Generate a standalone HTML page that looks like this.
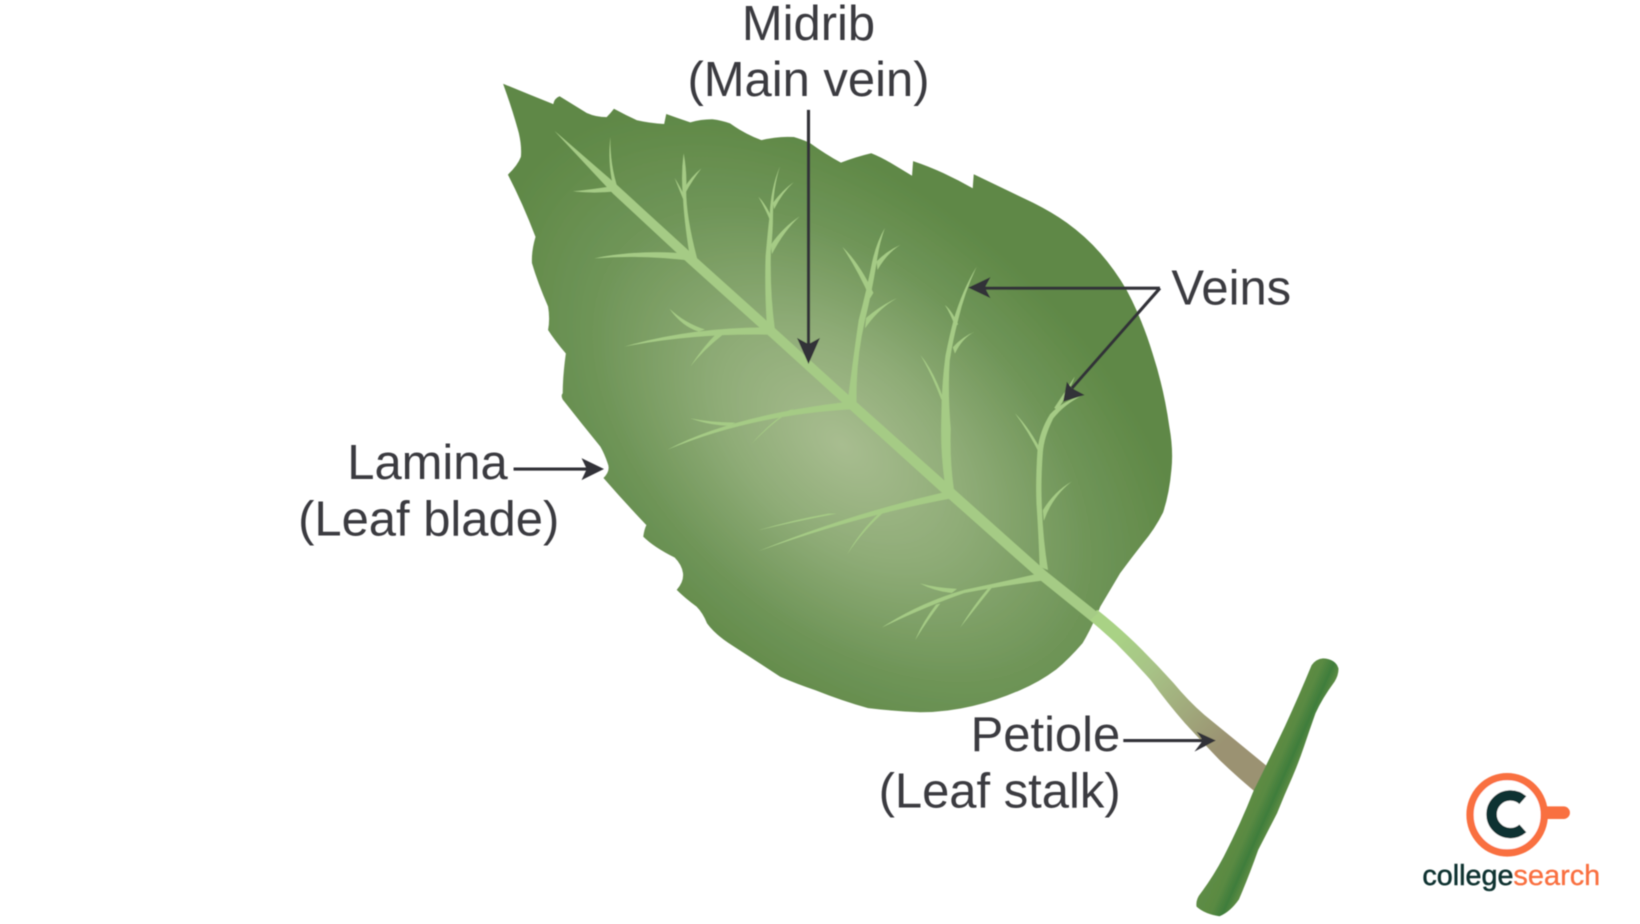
<!DOCTYPE html>
<html lang="en">
<head>
<meta charset="utf-8">
<title>Leaf diagram</title>
<style>
html,body{margin:0;padding:0;background:#fff}
svg{display:block;width:1640px;height:924px}
text{font-family:"Liberation Sans",sans-serif;fill:#3b3b3f;font-size:46.8px}
</style>
</head>
<body>
<svg xmlns="http://www.w3.org/2000/svg" width="1640" height="924" viewBox="0 0 1568 883.4">
<defs>
<radialGradient id="lf" gradientUnits="userSpaceOnUse" cx="0" cy="0" r="1" gradientTransform="translate(805 425) rotate(42) scale(400 240)">
<stop offset="0" stop-color="#a8bd90"/>
<stop offset=".35" stop-color="#8fac77"/>
<stop offset=".7" stop-color="#6f9558"/>
<stop offset="1" stop-color="#5f8846"/>
</radialGradient>
<linearGradient id="pt" gradientUnits="userSpaceOnUse" x1="1065" y1="610" x2="1170" y2="710">
<stop offset="0" stop-color="#a9d285"/>
<stop offset=".3" stop-color="#a8c487"/>
<stop offset="1" stop-color="#9b9272"/>
</linearGradient>
<linearGradient id="st" gradientUnits="userSpaceOnUse" x1="1192" y1="742" x2="1228" y2="758">
<stop offset="0" stop-color="#5f8d45"/>
<stop offset=".55" stop-color="#5a8a43"/>
<stop offset=".82" stop-color="#3f7d3b"/>
<stop offset="1" stop-color="#5a8a43"/>
</linearGradient>
<filter id="b" x="-5%" y="-5%" width="110%" height="110%"><feGaussianBlur stdDeviation=".5"/></filter>
</defs>
<g filter="url(#b)">
<!-- Leaf blade -->
<path fill="url(#lf)" d="M481,80 Q505,90 529,99.5 Q530,94 535,92 Q548,100 561,108 Q570,112 580,112 Q584,108 587,104 Q598,110 609,115 Q622,118 635,118.5 L637,109 Q648,113 660,117 Q670,114 681,114 Q690,115 698,118 Q712,128 728,134 Q744,130 759,131 Q766,133 774,136.5 Q790,148 804,155.5 Q818,150 833,146.5 Q842,150 852,156 Q862,162 872,168 L873,154 Q888,159 902,165.5 Q916,172 930,180 L931,166.6 L988,194 Q1006,203 1020,213 Q1038,226 1052,242 Q1066,258 1077,277 Q1092,305 1102,338 Q1113,372 1118,408 Q1122,430 1120,449 Q1118,472 1112,490 Q1104,506 1093,519 Q1082,533 1071,548 L1052,580 Q1044,600 1035,615 Q1022,630 1010,640 Q994,652 975,660 Q952,670 930,675 Q905,681 880,681 Q855,680 830,677 Q805,670 780,660 Q762,654 746,647 L700,617 Q684,607 676,596 Q672,586 666,580 Q655,572 647,564 Q654,556 653,548 Q652,540 645,533 Q625,523 615,513 Q616,506 618,502 Q597,480 577,457 Q584,450 581,443 Q578,434 574,427 Q556,405 538,382 Q536,378 538,376 Q538,360 541,338 Q530,325 524,315.5 Q526,305 524,293 Q514,270 508.6,251.5 Q508,240 512,226.5 Q500,195 485.6,167 Q495,158 498,150 Q499,140 496,127 Q490,105 481,80 Z"/>
<!-- Petiole -->
<path fill="url(#pt)" d="M1049,583 Q1068,598 1085.6,615 Q1104,633 1122,653 Q1136,670 1151.5,683.5 Q1184,710 1218,738 L1206,762 Q1184,744 1166,726.6 Q1150,710 1133,691.5 Q1116,672 1100,650 Q1084,632 1067,615 Q1054,603 1041.6,592.7 Z"/>
<!-- Stem -->
<path fill="url(#st)" d="M1265,629.4 Q1277,630 1279.7,639 Q1280,645 1276,651.7 Q1264,668 1257.7,682 Q1252,698 1246.7,714 Q1242,728 1235.8,742.5 Q1228,760 1221,777.5 Q1212,795 1203,812.6 Q1194,838 1184.5,860 Q1176,872 1166,876 Q1152,874 1144,866.8 Q1143,860 1148,854 Q1160,838 1170,819 Q1186,788 1199,755 Q1214,725 1228.4,694.7 Q1242,665 1254,636 Q1258,630 1265,629.4 Z"/>
<!-- Midrib -->
<path fill="#a5cb85" d="M530,125 L590,177 L660,241 L740,313 L815,381 L907,463 L1000,546 L1050,586 L1042,593 L995,555 L905,475 L812,391 L736,322 L656,250 L586,185 Z"/>
<!-- Veins -->
<g fill="#a5cb85">
<!-- A -->
<path d="M583.6,130.7 Q583,158 591,181 L586,177 Q581,155 583.6,130.7 Z"/>
<path d="M547.7,183 Q567,181 585,178 L589,183 Q568,185 547.7,183 Z"/>
<!-- B -->
<path d="M653.6,146.6 Q657,165 656,182 Q656,208 667,249 L659,242 Q654,210 653,188 Q651,168 653.6,146.6 Z"/>
<path d="M645,170 Q650,178 656,190 L653,190 Q649,180 645,170 Z"/>
<path d="M670.6,161 Q662,172 655,185 L654,180 Q660,170 670.6,161 Z"/>
<path d="M568,247 Q612,238 662,243 L667,250 Q615,243 568,247 Z"/>
<!-- D -->
<path d="M745.7,159 Q739,180 739,205 Q739,222 737,240 Q736,280 741,316 L733,308 Q731,275 732,245 Q734,222 736,205 Q737,180 745.7,159 Z"/>
<path d="M725,188 Q732,195 738,208 L736,210 Q731,198 725,188 Z"/>
<path d="M759,174 Q748,184 740,200 L739,194 Q748,182 759,174 Z"/>
<path d="M764.5,207 Q750,220 738,243 L737,234 Q749,217 764.5,207 Z"/>
<!-- E -->
<path d="M597,331.4 Q660,313 736,313 L741,320 Q665,318 597,331.4 Z"/>
<path d="M640,295 Q655,309 674,315 L668,317 Q652,312 640,295 Z"/>
<path d="M691,320 Q672,335 660,350.5 Q672,332 685,319 Z"/>
<!-- F -->
<path d="M846,218 Q840,235 838,252 Q833,282 827,306 Q818,345 819,386 L811,380 Q816,340 821,306 Q828,280 834,250 Q838,232 846,218 Z"/>
<path d="M805.4,236 Q822,252 835,280 L832,285 Q820,258 805.4,236 Z"/>
<path d="M861,234 Q848,242 839,258 L838,250 Q848,240 861,234 Z"/>
<path d="M857.6,285 Q840,295 827,314 L828,304 Q842,292 857.6,285 Z"/>
<!-- K -->
<path d="M638,430 Q700,397 812,384 L819,391 Q720,396 638,430 Z"/>
<path d="M660,400 Q680,404 703,404 L698,407 Q680,407 660,400 Z"/>
<path d="M718,425 Q735,405 755,392 L759,391 Q738,404 718,425 Z"/>
<!-- G -->
<path d="M933.7,255 Q922,280 916,306 Q911,325 908,345 Q906,375 909,410 Q908,440 912,468 L903,460 Q899,430 900,400 Q900,370 904,340 Q908,320 912,305 Q920,278 933.7,255 Z"/>
<path d="M903.4,291.6 Q910,297 916,310 L913,312 Q909,300 903.4,291.6 Z"/>
<path d="M932,317 Q920,323 913,338 L911,332 Q920,322 932,317 Z"/>
<path d="M880,339.4 Q893,355 903,384 L900,382 Q891,358 880,339.4 Z"/>
<!-- J -->
<path d="M725,527 Q810,492 905,470 L912,476 Q820,493 725,527 Z"/>
<path d="M725,507 Q758,497 792,491 L800,491 Q758,499 725,507 Z"/>
<path d="M810,530 Q822,508 842,489 L847,488 Q826,506 810,530 Z"/>
<!-- H -->
<path d="M1035.7,377.6 Q1018,386 1007,400 Q998,418 997,433 Q995,460 996,482 Q997,515 1002,545 L994,542 Q993,510 991,482 Q990,460 992,430 Q994,412 1004,396 Q1015,384 1035.7,377.6 Z"/>
<path d="M1027.7,360 Q1022,375 1011,392 L1008,390 Q1018,375 1027.7,360 Z"/>
<path d="M970.3,395 Q985,410 997,434 L995,436 Q983,412 970.3,395 Z"/>
<path d="M1024.5,460.5 Q1006,475 998,498 L997,488 Q1008,470 1024.5,460.5 Z"/>
<!-- I -->
<path d="M843,600 Q880,576 922,564 Q955,557 990,549 L997,555 Q958,560 922,567 Q885,580 843,600 Z"/>
<path d="M879.5,557.7 Q895,562 915,563 L910,567 Q893,565 879.5,557.7 Z"/>
<path d="M875,612 Q882,595 895,578 L899,577 Q886,594 875,612 Z"/>
<path d="M918,600 Q930,580 945,562 L949,561 Q933,581 918,600 Z"/>
</g>
<!-- Arrows -->
<g stroke="#333238" stroke-width="3" fill="none">
<path d="M773,105 L773,330"/>
<path d="M1109,275.5 L941,275.5"/>
<path d="M1109,275.5 L1025,371"/>
<path d="M491,448.4 L562,448.4"/>
<path d="M1074,708 L1150,708"/>
</g>
<g fill="#333238">
<path d="M773,348 L762,323 L773,329 L784,323 Z"/>
<path d="M925.7,275 L947,265 L941.6,275 L947,285 Z"/>
<path d="M1016.5,384 L1020,365 L1024.5,371 L1037,377.6 Z"/>
<path d="M577.5,448.4 L556,438 L561,448.4 L556,459 Z"/>
<path d="M1162.5,708 L1144,699.5 L1150,708 L1142,718.6 Z"/>
</g>
<!-- Labels -->
<text x="773" y="38" text-anchor="middle">Midrib</text>
<text x="773" y="92" text-anchor="middle">(Main vein)</text>
<text x="1120" y="291">Veins</text>
<text x="332" y="458">Lamina</text>
<text x="285" y="512">(Leaf blade)</text>
<text x="928" y="718">Petiole</text>
<text x="840" y="772">(Leaf stalk)</text>
<!-- Logo -->
<path d="M1478,777 L1495,777" stroke="#f96f3f" stroke-width="12" stroke-linecap="round" fill="none"/>
<ellipse cx="1441" cy="779" rx="35.5" ry="36.5" fill="#fff" stroke="#f96f3f" stroke-width="7"/>
<path d="M1456,765 A18,18 0 1 0 1456,792" stroke="#0f3330" stroke-width="10" fill="none"/>
<text x="1360" y="846" textLength="87" lengthAdjust="spacingAndGlyphs" style="font-size:27px;fill:#0f3330;stroke:#0f3330;stroke-width:.5">college</text>
<text x="1447" y="846" textLength="83" lengthAdjust="spacingAndGlyphs" style="font-size:27px;fill:#f96f3f;stroke:#f96f3f;stroke-width:.3">search</text>
</g>
</svg>
</body>
</html>
